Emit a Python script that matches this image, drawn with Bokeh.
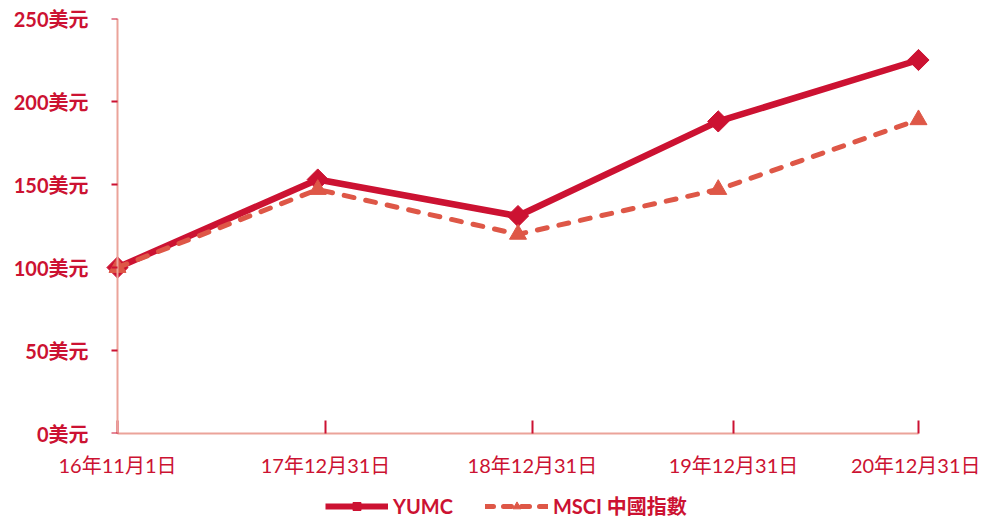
import math
from bokeh.plotting import figure
from bokeh.layouts import column
from bokeh.models import FixedTicker, Range1d, Legend, LegendItem, LinearAxis
from bokeh.embed import file_html
from bokeh.resources import INLINE

dates = ["16年11月1日", "17年12月31日", "18年12月31日", "19年12月31日", "20年12月31日"]
yumc = [100, 153, 131, 188, 225]
msci = [100, 147, 120, 147, 189]
y_ticks = [0, 50, 100, 150, 200, 250]
y_labels = ["0美元", "50美元", "100美元", "150美元", "200美元", "250美元"]
series_names = ["YUMC", "MSCI 中國指數"]

xs = list(range(len(dates)))
x_tick_pos = [0, 1.039, 2.072, 3.076, 4]

RED = "#cc1232"
SALMON = "#de5747"
AXIS = "#eba39a"
FONT = "Lato, Noto Sans CJK TC"
DASH = "10 12"

pad = 0.06
p = figure(width=980, height=492, output_backend="svg", toolbar_location=None,
           x_range=Range1d(xs[0] - pad, xs[-1] + pad), y_range=Range1d(y_ticks[0], y_ticks[-1]),
           y_axis_location=None,
           min_border_left=105, min_border_right=50, min_border_top=18, min_border_bottom=59)
p.outline_line_color = None
p.xgrid.visible = False
p.ygrid.visible = False

p.line(xs, yumc, line_color=RED, line_width=6.5)
p.scatter(xs, yumc, marker="square", angle=math.pi / 4, size=15, fill_color=RED, line_color=RED)
p.line(xs, msci, line_color=SALMON, line_width=5, line_dash=DASH, line_cap="round")
p.scatter(xs, msci, marker="triangle", size=17, fill_color=SALMON, line_color=SALMON)

# labels axis (in the left panel)
ylab = LinearAxis(ticker=FixedTicker(ticks=y_ticks),
                  major_label_overrides={t: l for t, l in zip(y_ticks, y_labels)},
                  axis_line_color=None, major_tick_line_color=None, minor_tick_line_color=None,
                  major_tick_out=0, major_tick_in=0,
                  major_label_text_color=RED, major_label_text_font=FONT,
                  major_label_text_font_size="20px", major_label_text_font_style="bold",
                  major_label_standoff=17)
p.add_layout(ylab, "left")

# axis line + ticks drawn at x = first point
yline = LinearAxis(ticker=FixedTicker(ticks=y_ticks), fixed_location=xs[0],
                   axis_line_color=AXIS, axis_line_width=2,
                   major_tick_out=6, major_tick_in=0, major_tick_line_color=RED,
                   major_tick_line_width=2, minor_tick_line_color=None,
                   major_label_overrides={t: "" for t in y_ticks}, major_label_standoff=0)
p.add_layout(yline, "left")

p.xaxis.ticker = FixedTicker(ticks=x_tick_pos)
p.xaxis.bounds = (xs[0], xs[-1])
p.xaxis.major_label_overrides = {t: l for t, l in zip(x_tick_pos, dates)}
p.xaxis.minor_tick_line_color = None
p.xaxis.major_tick_out = 0
p.xaxis.major_tick_in = 13
p.xaxis.major_tick_line_color = RED
p.xaxis.major_tick_line_width = 2
p.xaxis.axis_line_color = AXIS
p.xaxis.axis_line_width = 2
p.xaxis.major_label_text_color = RED
p.xaxis.major_label_text_font = FONT
p.xaxis.major_label_text_font_size = "20px"
p.xaxis.major_label_standoff = 19

# legend strip below the chart (its renderers hold the first data point, outside the strip's range)
lf = figure(width=980, height=28, output_backend="svg", toolbar_location=None,
            x_range=Range1d(10, 11), y_range=Range1d(1000, 1001),
            x_axis_location=None, y_axis_location=None,
            min_border_left=105, min_border_right=50, min_border_top=0, min_border_bottom=0)
lf.outline_line_color = None
lf.xgrid.visible = False
lf.ygrid.visible = False
l1 = lf.line(xs[:1], yumc[:1], line_color=RED, line_width=6)
m1 = lf.scatter(xs[:1], yumc[:1], marker="square", angle=math.pi / 4, size=11,
                fill_color=RED, line_color=RED)
l2 = lf.line(xs[:1], msci[:1], line_color=SALMON, line_width=5, line_dash="8 10", line_cap="round")
m2 = lf.scatter(xs[:1], msci[:1], marker="triangle", size=15, fill_color=SALMON, line_color=SALMON)

legend = Legend(items=[LegendItem(label=series_names[0], renderers=[l1, m1]),
                       LegendItem(label=series_names[1], renderers=[l2, m2])],
                orientation="horizontal", location=(220, 0),
                glyph_width=63, glyph_height=20, label_standoff=5, spacing=32,
                padding=0, margin=0, border_line_color=None, background_fill_alpha=0,
                label_text_color=RED, label_text_font=FONT, label_text_font_size="20px",
                label_text_font_style="bold")
lf.add_layout(legend, "center")

layout = column(p, lf, spacing=0)
open("out.html", "w").write(file_html(layout, INLINE))
